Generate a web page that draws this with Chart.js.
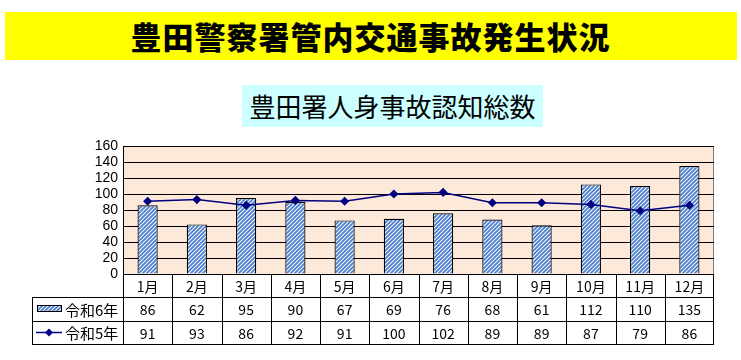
<!DOCTYPE html>
<html><head><meta charset="utf-8">
<script src="https://cdn.jsdelivr.net/npm/chart.js@4"></script>
<style>
html,body{margin:0;padding:0;background:#fff;width:741px;height:360px;overflow:hidden;}
#banner{position:absolute;left:5px;top:12px;width:732px;height:48px;background:#ffff00;}
#bannerText{position:absolute;left:0;top:12px;width:741px;height:48px;line-height:48px;text-align:center;font-family:"Noto Sans CJK JP";font-weight:900;font-size:31px;color:#000;letter-spacing:1px;}
#sub{position:absolute;left:242px;top:85px;width:301px;height:42px;background:#ccffff;line-height:42px;text-align:center;font-family:"Noto Sans CJK JP";font-size:26px;color:#000;}
#c{position:absolute;left:0;top:0;}
</style></head><body>
<div id="banner"></div>
<div id="bannerText">豊田警察署管内交通事故発生状況</div>
<div id="sub">豊田署人身事故認知総数</div>
<canvas id="c" width="741" height="360"></canvas>
<script>
const months = ["1月","2月","3月","4月","5月","6月","7月","8月","9月","10月","11月","12月"];
const seriesR6 = [86,62,95,90,67,69,76,68,61,112,110,135];
const seriesR5 = [91,93,86,92,91,100,102,89,89,87,79,86];
const nameR6 = "令和6年";
const nameR5 = "令和5年";
const yTicks = [0,20,40,60,80,100,120,140,160];

function hatch(){
  const p = document.createElement('canvas');
  p.width = 4; p.height = 4;
  const g = p.getContext('2d');
  g.fillStyle = '#ffffff'; g.fillRect(0,0,4,4);
  g.strokeStyle = '#4a7fd0'; g.lineWidth = 1.8;
  g.beginPath();
  g.moveTo(-1,5); g.lineTo(5,-1);
  g.moveTo(-1,1); g.lineTo(1,-1);
  g.moveTo(3,5); g.lineTo(5,3);
  g.stroke();
  return g.createPattern(p,'repeat');
}
const ctx0 = document.getElementById('c').getContext('2d');
const pat = hatch();

const bgPlugin = {
  id:'bg',
  beforeDraw(chart){
    const a = chart.chartArea, c = chart.ctx;
    c.save(); c.fillStyle = '#fde9d9'; c.fillRect(a.left,a.top,a.right-a.left,a.bottom-a.top);
    c.strokeStyle = '#808080'; c.lineWidth = 1;
    c.beginPath(); c.moveTo(a.left,a.top+0.5); c.lineTo(a.right-0.5,a.top+0.5); c.lineTo(a.right-0.5,a.bottom); c.stroke();
    c.restore();
  }
};

const tablePlugin = {
  id:'tbl',
  afterDraw(chart){
    const a = chart.chartArea, c = chart.ctx;
    const x = chart.scales.x;
    const n = months.length;
    const w = (a.right - a.left)/n;
    const r0 = a.bottom, r1 = 297, r2 = 321, r3 = 344, L = 32;
    c.save();
    c.strokeStyle = '#000'; c.lineWidth = 1;
    c.beginPath();
    c.moveTo(a.left, r0+0.5); c.lineTo(a.right, r0+0.5);
    c.moveTo(L, r1+0.5); c.lineTo(a.right, r1+0.5);
    c.moveTo(L, r2+0.5); c.lineTo(a.right, r2+0.5);
    c.moveTo(L, r3+0.5); c.lineTo(a.right, r3+0.5);
    c.moveTo(L+0.5, r1); c.lineTo(L+0.5, r3+1);
    for(let i=0;i<=n;i++){
      const xx = Math.round(a.left + i*w) - (i===n?0.5:-0.5);
      c.moveTo(xx, r0); c.lineTo(xx, r3+1);
    }
    c.stroke();
    c.fillStyle = '#000';
    c.textAlign = 'center'; c.textBaseline = 'middle';
    c.font = '14px "Noto Sans CJK JP"';
    for(let i=0;i<n;i++){
      const cx = x.getPixelForValue(i);
      c.fillText(months[i], cx, (r0+r1)/2+1);
      c.fillText(String(seriesR6[i]), cx, (r1+r2)/2+1);
      c.fillText(String(seriesR5[i]), cx, (r2+r3)/2+1);
    }
    const ky1 = (r1+r2)/2, ky2 = (r2+r3)/2;
    c.fillStyle = pat; c.fillRect(37, ky1-4, 25, 7);
    c.strokeStyle = '#000'; c.strokeRect(37.5, ky1-3.5, 24, 6);
    c.strokeStyle = '#000080'; c.lineWidth = 1.5;
    c.beginPath(); c.moveTo(36, ky2); c.lineTo(62, ky2); c.stroke();
    c.fillStyle = '#000080';
    c.beginPath(); c.moveTo(49, ky2-4); c.lineTo(53, ky2); c.lineTo(49, ky2+4); c.lineTo(45, ky2); c.closePath(); c.fill();
    c.fillStyle = '#000'; c.textAlign = 'left'; c.font = '15px "Noto Sans CJK JP"';
    c.fillText(nameR6, 65, ky1+1);
    c.fillText(nameR5, 65, ky2+1);
    c.restore();
  }
};

new Chart(ctx0, {
  data:{
    labels: months,
    datasets:[
      {type:'line', label:nameR5, data:seriesR5, borderColor:'#000080', backgroundColor:'#000080', borderWidth:1.5,
       pointStyle:'rectRot', pointRadius:3.5, pointHoverRadius:3.5, tension:0, order:0},
      {type:'bar', label:nameR6, data:seriesR6, backgroundColor:pat, borderColor:'#000', borderWidth:1.2,
       barPercentage:0.41, categoryPercentage:1.0, order:1}
    ]
  },
  options:{
    responsive:false, animation:false, devicePixelRatio:1,
    layout:{padding:{left:0, top:146, right:27, bottom:86}},
    plugins:{legend:{display:false}, tooltip:{enabled:false}, title:{display:false}},
    scales:{
      x:{ticks:{display:false}, grid:{display:false}, border:{display:false},
         afterFit(s){ s.height = 0; }},
      y:{min:0, max:160, afterBuildTicks(s){ s.ticks = yTicks.map(v=>({value:v})); },
         ticks:{autoSkip:false, color:'#000', font:{family:'"Liberation Sans", Arial', size:14}, padding:5},
         grid:{color:'#000', lineWidth:1, drawTicks:false, tickLength:0},
         border:{display:true, color:'#000', width:1},
         afterFit(s){ s.width = 123; }}
    }
  },
  plugins:[bgPlugin, tablePlugin]
});
</script>
</body></html>
